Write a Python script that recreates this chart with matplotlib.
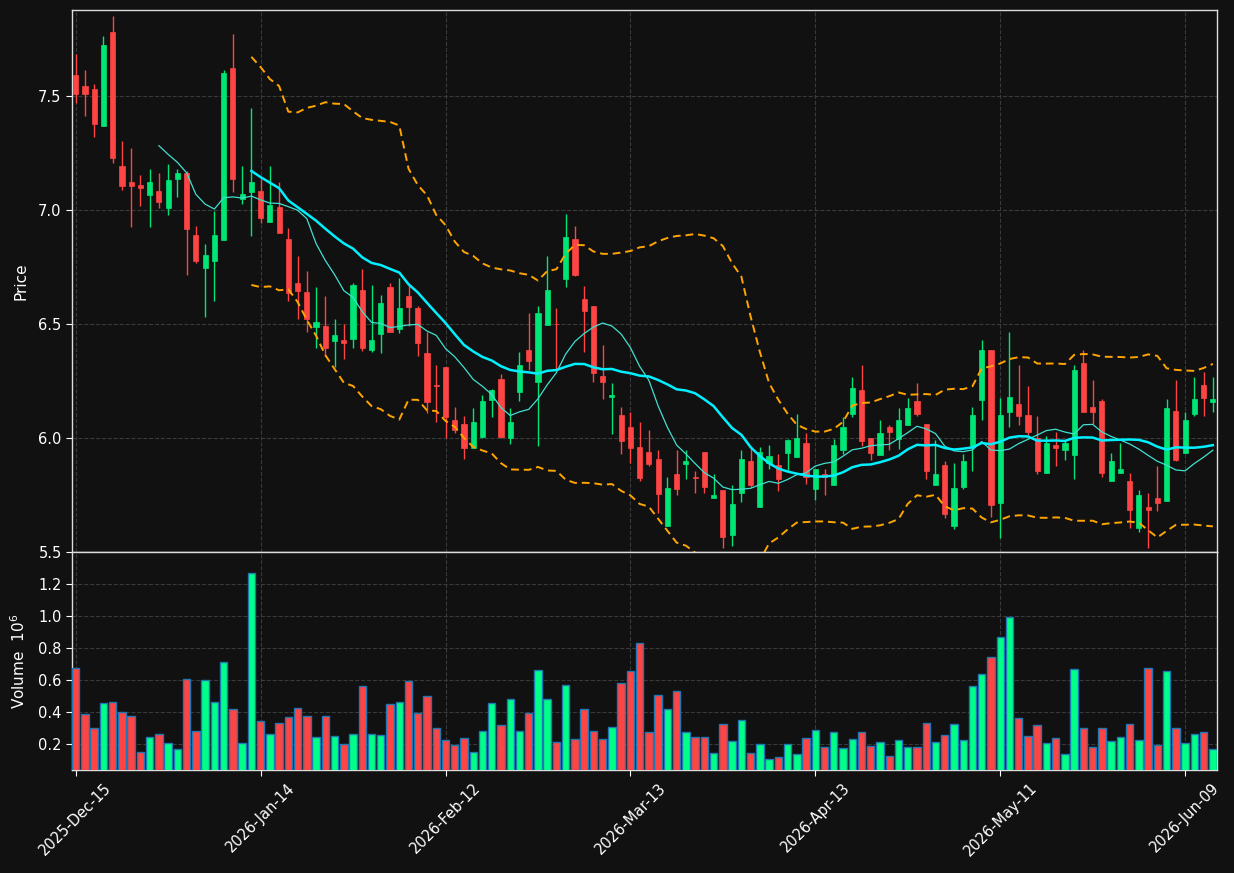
import matplotlib
matplotlib.use('Agg')
import matplotlib.pyplot as plt
import numpy as np
import pandas as pd

# ---------------- data ----------------
opens = [7.592, 7.543, 7.530, 7.369, 7.780, 7.193, 7.122, 7.110, 7.066, 7.082,
         7.008, 7.135, 7.161, 6.890, 6.747, 6.778, 6.870, 7.622, 7.049, 7.079,
         7.082, 6.949, 7.013, 6.873, 6.679, 6.640, 6.488, 6.492, 6.426, 6.429,
         6.435, 6.649, 6.385, 6.458, 6.662, 6.480, 6.623, 6.570, 6.373, 6.232,
         6.310, 6.078, 6.060, 5.957, 6.004, 6.168, 6.257, 5.998, 6.200, 6.388,
         6.247, 6.497, 6.501, 6.699, 6.873, 6.609, 6.579, 6.271, 6.178, 6.100,
         6.048, 5.960, 5.937, 5.907, 5.614, 5.842, 5.887, 5.827, 5.937, 5.739,
         5.771, 5.575, 5.757, 5.898, 5.698, 5.890, 5.880, 5.933, 5.918, 5.977,
         5.777, 5.842, 5.796, 5.948, 6.107, 6.210, 5.999, 5.925, 6.048, 5.997,
         6.057, 6.162, 6.060, 5.795, 5.880, 5.614, 5.784, 5.963, 6.168, 6.388,
         5.717, 6.115, 6.148, 6.100, 5.999, 5.848, 5.969, 5.948, 5.927, 6.327,
         6.138, 6.162, 5.810, 5.848, 5.810, 5.607, 5.699, 5.739, 5.725, 6.118,
         5.933, 6.106, 6.232, 6.159]
highs = [7.683, 7.612, 7.551, 7.763, 7.851, 7.301, 7.270, 7.152, 7.179, 7.161,
         7.201, 7.179, 7.170, 6.928, 6.849, 6.997, 7.612, 7.771, 7.191, 7.449,
         7.137, 7.191, 7.122, 6.919, 6.800, 6.731, 6.662, 6.623, 6.520, 6.500,
         6.679, 6.740, 6.670, 6.629, 6.679, 6.700, 6.670, 6.580, 6.467, 6.320,
         6.310, 6.138, 6.098, 6.131, 6.188, 6.216, 6.279, 6.131, 6.379, 6.550,
         6.577, 6.800, 6.568, 6.982, 6.928, 6.668, 6.579, 6.410, 6.239, 6.138,
         6.115, 6.068, 6.037, 5.949, 5.827, 5.949, 5.949, 5.857, 5.937, 5.842,
         5.771, 5.796, 5.949, 5.957, 5.959, 5.968, 5.928, 5.996, 6.107, 6.021,
         5.866, 5.866, 5.996, 6.090, 6.269, 6.320, 6.000, 6.077, 6.057, 6.130,
         6.177, 6.239, 6.060, 5.989, 5.898, 5.889, 5.928, 6.138, 6.429, 6.388,
         6.177, 6.467, 6.318, 6.230, 6.098, 6.007, 6.027, 5.990, 6.320, 6.388,
         6.256, 6.171, 5.936, 5.977, 5.848, 5.771, 5.757, 5.878, 6.169, 6.256,
         6.115, 6.269, 6.288, 6.269]
lows = [7.471, 7.410, 7.319, 7.369, 7.208, 7.088, 6.926, 7.019, 6.926, 7.010,
        6.979, 7.058, 6.717, 6.768, 6.529, 6.599, 6.870, 7.081, 7.028, 6.888,
        6.941, 6.949, 6.900, 6.599, 6.523, 6.467, 6.395, 6.360, 6.310, 6.348,
        6.395, 6.380, 6.376, 6.371, 6.465, 6.459, 6.489, 6.360, 6.109, 6.069,
        5.998, 6.021, 5.906, 5.957, 5.998, 6.090, 5.998, 5.975, 6.162, 6.300,
        5.966, 6.497, 6.300, 6.661, 6.709, 6.379, 6.247, 6.169, 6.019, 5.928,
        5.890, 5.810, 5.878, 5.669, 5.614, 5.748, 5.818, 5.757, 5.758, 5.739,
        5.517, 5.528, 5.718, 5.787, 5.698, 5.866, 5.769, 5.860, 5.918, 5.798,
        5.727, 5.748, 5.796, 5.928, 6.090, 5.963, 5.905, 5.925, 5.948, 5.951,
        6.057, 6.098, 5.818, 5.795, 5.648, 5.602, 5.777, 5.855, 6.077, 5.655,
        5.561, 6.047, 6.059, 6.012, 5.840, 5.848, 5.878, 5.905, 5.818, 6.115,
        6.060, 5.827, 5.810, 5.848, 5.607, 5.587, 5.517, 5.678, 5.725, 5.898,
        5.933, 6.098, 6.098, 6.115]
closes = [7.510, 7.510, 7.378, 7.724, 7.229, 7.107, 7.107, 7.096, 7.122, 7.035,
          7.131, 7.161, 6.917, 6.778, 6.802, 6.890, 7.601, 7.137, 7.070, 7.122,
          6.966, 7.020, 6.900, 6.638, 6.646, 6.520, 6.508, 6.395, 6.451, 6.418,
          6.670, 6.395, 6.429, 6.591, 6.465, 6.570, 6.576, 6.418, 6.159, 6.228,
          6.090, 6.037, 5.957, 6.069, 6.162, 6.210, 6.004, 6.069, 6.320, 6.339,
          6.550, 6.649, 6.498, 6.881, 6.714, 6.558, 6.286, 6.247, 6.188, 5.987,
          5.957, 5.825, 5.887, 5.755, 5.780, 5.777, 5.899, 5.825, 5.786, 5.749,
          5.566, 5.710, 5.907, 5.795, 5.937, 5.921, 5.818, 5.990, 5.999, 5.827,
          5.866, 5.827, 5.969, 6.048, 6.218, 5.987, 5.933, 6.021, 6.025, 6.077,
          6.130, 6.106, 5.855, 5.842, 5.667, 5.780, 5.898, 6.100, 6.388, 5.707,
          6.100, 6.178, 6.095, 6.027, 5.855, 5.977, 5.957, 5.977, 6.300, 6.115,
          6.115, 5.848, 5.898, 5.866, 5.686, 5.748, 5.686, 5.716, 6.131, 5.903,
          6.078, 6.169, 6.177, 6.169]
volumes = [0.678, 0.385, 0.303, 0.458, 0.465, 0.402, 0.376, 0.152, 0.246, 0.265,
           0.209, 0.171, 0.605, 0.284, 0.599, 0.465, 0.712, 0.416, 0.209, 1.266,
           0.341, 0.265, 0.334, 0.366, 0.423, 0.372, 0.246, 0.372, 0.253, 0.202,
           0.265, 0.561, 0.265, 0.259, 0.448, 0.465, 0.592, 0.391, 0.498, 0.297,
           0.228, 0.196, 0.240, 0.152, 0.284, 0.458, 0.316, 0.479, 0.284, 0.391,
           0.662, 0.479, 0.215, 0.567, 0.234, 0.416, 0.284, 0.234, 0.309, 0.580,
           0.655, 0.831, 0.278, 0.504, 0.416, 0.529, 0.272, 0.246, 0.246, 0.146,
           0.328, 0.221, 0.347, 0.146, 0.202, 0.108, 0.121, 0.202, 0.139, 0.240,
           0.290, 0.183, 0.278, 0.177, 0.234, 0.278, 0.190, 0.215, 0.127, 0.228,
           0.183, 0.183, 0.334, 0.215, 0.259, 0.328, 0.228, 0.561, 0.636, 0.743,
           0.869, 0.995, 0.360, 0.253, 0.316, 0.209, 0.240, 0.139, 0.668, 0.297,
           0.183, 0.303, 0.221, 0.246, 0.328, 0.228, 0.674, 0.196, 0.655, 0.303,
           0.209, 0.265, 0.278, 0.171]  # in millions

market_holidays = ['2025-12-25', '2026-01-01', '2026-01-19', '2026-02-16',
                   '2026-04-03', '2026-05-25']
dates = pd.bdate_range('2025-12-15', periods=len(closes), freq='C',
                       holidays=market_holidays)

# ---------------- style ----------------
BG = '#111111'
UP = '#00e676'
DOWN = '#ff4444'
VUP = '#00ff88'
VDOWN = '#ff4444'
GRID = '#3a3a3a'

df = pd.DataFrame({'o': opens, 'h': highs, 'l': lows, 'c': closes, 'v': volumes})
ma10 = df['c'].rolling(10).mean()
ma20 = df['c'].rolling(20).mean()
sd20 = df['c'].rolling(20).std(ddof=0)
bb_up = ma20 + 2 * sd20
bb_lo = ma20 - 2 * sd20

x = np.arange(len(df))
up = df['c'] >= df['o']

fig = plt.figure(figsize=(12.34, 8.73), dpi=100, facecolor=BG)
L, W = 72 / 1234, (1217 - 72) / 1234
ax = fig.add_axes([L, 1 - 552 / 873, W, (552 - 10) / 873])
axv = fig.add_axes([L, 1 - 770 / 873, W, (770 - 552) / 873], sharex=ax)

for a in (ax, axv):
    a.set_facecolor(BG)
    for s in a.spines.values():
        s.set_color('#dddddd')
        s.set_linewidth(1.0)
    a.grid(True, color=GRID, linestyle='--', linewidth=0.8)
    a.set_axisbelow(True)
    a.tick_params(colors='white', labelsize=10.5, length=4)

# candles
body_bot = np.minimum(df['o'], df['c'])
body_h = np.maximum((df['c'] - df['o']).abs(), 0.004)
cols = np.where(up, UP, DOWN)
ax.vlines(x, df['l'], df['h'], colors=cols, linewidth=1.0, zorder=2)
ax.bar(x, body_h, bottom=body_bot, width=0.56, color=cols, edgecolor=cols,
       linewidth=0.5, zorder=3)

# indicators
ax.plot(x, ma10, color='#40e0d0', linewidth=0.9, zorder=4)
ax.plot(x, ma20, color='#00f0ff', linewidth=1.8, zorder=4)
ax.plot(x, bb_up, color='#ffa500', linewidth=1.4, linestyle=(0, (4, 2.5)), zorder=4)
ax.plot(x, bb_lo, color='#ffa500', linewidth=1.4, linestyle=(0, (4, 2.5)), zorder=4)

ax.set_ylim(5.5, 7.877)
ax.set_yticks([5.5, 6.0, 6.5, 7.0, 7.5])
ax.set_yticklabels(['5.5', '6.0', '6.5', '7.0', '7.5'])
ax.set_ylabel('Price', color='white', fontsize=11)
ax.tick_params(axis='x', labelbottom=False, length=0)

# volume
vcols = np.where(up, VUP, VDOWN)
axv.bar(x, df['v'], width=0.8, color=vcols, edgecolor='#1f77b4', linewidth=1.0, zorder=3)
axv.set_ylim(0.0375, 1.4)
axv.set_yticks([0.2, 0.4, 0.6, 0.8, 1.0, 1.2])
axv.set_yticklabels(['0.2', '0.4', '0.6', '0.8', '1.0', '1.2'])
axv.set_ylabel('Volume  $10^{6}$', color='white', fontsize=11)

ticks = list(range(0, len(df), 20))
axv.set_xticks(ticks)
axv.set_xticklabels([dates[i].strftime('%Y-%b-%d') for i in ticks],
                    rotation=45, ha='center')
axv.set_xlim(-0.4, 123.45)

ax.yaxis.set_label_coords(-0.038, 0.5)
axv.yaxis.set_label_coords(-0.038, 0.5)

fig.savefig('out.png', dpi=100, facecolor=BG)
